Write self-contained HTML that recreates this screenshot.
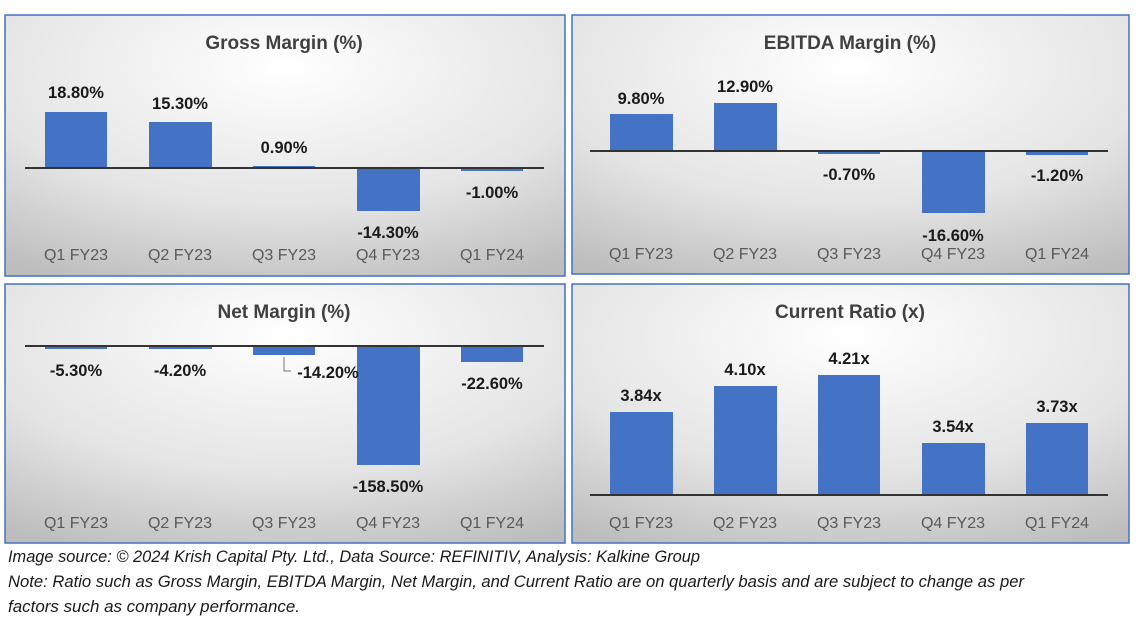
<!DOCTYPE html>
<html><head><meta charset="utf-8"><style>
body{margin:0;background:#fff;width:1136px;height:633px;overflow:hidden;font-family:"Liberation Sans",Calibri,sans-serif}
svg text{font-family:"Liberation Sans",sans-serif}
</style></head><body>
<svg width="1136" height="633" xmlns="http://www.w3.org/2000/svg">
<defs>
<radialGradient id="g" cx="0.5" cy="0.2" r="0.9">
<stop offset="0" stop-color="#ffffff"/><stop offset="0.6" stop-color="#e4e4e4"/><stop offset="1" stop-color="#bdbdbd"/>
</radialGradient>
</defs>
<g stroke="#4472c4" stroke-width="1.5" fill="url(#g)">
<rect x="5" y="15" width="560" height="261"/>
<rect x="572" y="15" width="557" height="259"/>
<rect x="5" y="284" width="560" height="259"/>
<rect x="572" y="284" width="557" height="259"/>
</g>
<g font-weight="bold" font-size="19" fill="#404040" text-anchor="middle">
<text x="284" y="49">Gross Margin (%)</text>
<text x="850" y="49">EBITDA Margin (%)</text>
<text x="284" y="318">Net Margin (%)</text>
<text x="850" y="318">Current Ratio (x)</text>
</g>
<g fill="#4472c4">
<rect x="45" y="112" width="62" height="56"/><rect x="149" y="122" width="63" height="46"/><rect x="253" y="166" width="62" height="2"/><rect x="357" y="168" width="63" height="43"/><rect x="461" y="168" width="62" height="3"/>
<rect x="610" y="114" width="63" height="37"/><rect x="714" y="103" width="63" height="48"/><rect x="818" y="151" width="62" height="3"/><rect x="922" y="151" width="63" height="62"/><rect x="1026" y="151" width="62" height="4"/>
<rect x="45" y="346" width="62" height="3"/><rect x="149" y="346" width="63" height="3"/><rect x="253" y="346" width="62" height="9"/><rect x="357" y="346" width="63" height="119"/><rect x="461" y="346" width="62" height="16"/>
<rect x="610" y="412" width="63" height="83"/><rect x="714" y="386" width="63" height="109"/><rect x="818" y="375" width="62" height="120"/><rect x="922" y="443" width="63" height="52"/><rect x="1026" y="423" width="62" height="72"/>
</g>
<g stroke="#333" stroke-width="2">
<line x1="25" y1="168" x2="544" y2="168"/>
<line x1="590" y1="151" x2="1108" y2="151"/>
<line x1="25" y1="346" x2="544" y2="346"/>
<line x1="590" y1="495" x2="1108" y2="495"/>
</g>
<path d="M284 357 V371 H291" stroke="#777" fill="none"/>
<g font-weight="bold" font-size="16.5" fill="#1a1a1a" text-anchor="middle">
<text x="76" y="98">18.80%</text><text x="180" y="109">15.30%</text><text x="284" y="153">0.90%</text><text x="388" y="238">-14.30%</text><text x="492" y="198">-1.00%</text>
<text x="641" y="104">9.80%</text><text x="745" y="92">12.90%</text><text x="849" y="180">-0.70%</text><text x="953" y="241">-16.60%</text><text x="1057" y="181">-1.20%</text>
<text x="76" y="376">-5.30%</text><text x="180" y="376">-4.20%</text><text x="328" y="378">-14.20%</text><text x="388" y="492">-158.50%</text><text x="492" y="389">-22.60%</text>
<text x="641" y="401">3.84x</text><text x="745" y="375">4.10x</text><text x="849" y="364">4.21x</text><text x="953" y="432">3.54x</text><text x="1057" y="412">3.73x</text>
</g>
<g font-size="16" fill="#595959" text-anchor="middle">
<text x="76" y="260">Q1 FY23</text><text x="180" y="260">Q2 FY23</text><text x="284" y="260">Q3 FY23</text><text x="388" y="260">Q4 FY23</text><text x="492" y="260">Q1 FY24</text>
<text x="641" y="259">Q1 FY23</text><text x="745" y="259">Q2 FY23</text><text x="849" y="259">Q3 FY23</text><text x="953" y="259">Q4 FY23</text><text x="1057" y="259">Q1 FY24</text>
<text x="76" y="528">Q1 FY23</text><text x="180" y="528">Q2 FY23</text><text x="284" y="528">Q3 FY23</text><text x="388" y="528">Q4 FY23</text><text x="492" y="528">Q1 FY24</text>
<text x="641" y="528">Q1 FY23</text><text x="745" y="528">Q2 FY23</text><text x="849" y="528">Q3 FY23</text><text x="953" y="528">Q4 FY23</text><text x="1057" y="528">Q1 FY24</text>
</g>
<g font-size="16.5" font-style="italic" fill="#1a1a1a">
<text x="8" y="562" textLength="692" lengthAdjust="spacingAndGlyphs">Image source: © 2024 Krish Capital Pty. Ltd., Data Source: REFINITIV, Analysis: Kalkine Group</text>
<text x="8" y="587" textLength="1016" lengthAdjust="spacingAndGlyphs">Note: Ratio such as Gross Margin, EBITDA Margin, Net Margin, and Current Ratio are on quarterly basis and are subject to change as per</text>
<text x="8" y="612" textLength="292" lengthAdjust="spacingAndGlyphs">factors such as company performance.</text>
</g>
</svg>
</body></html>
